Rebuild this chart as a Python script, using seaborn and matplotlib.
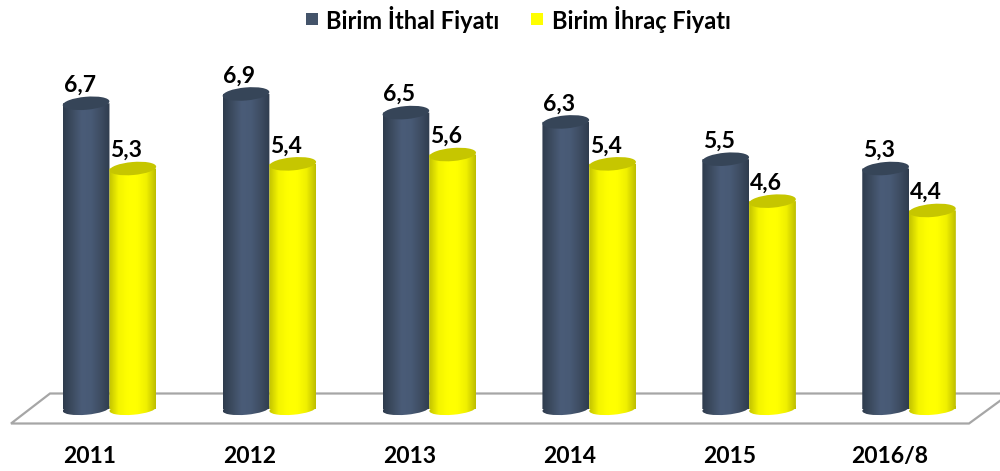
import numpy as np
import pandas as pd
import seaborn as sns
import matplotlib
matplotlib.use("Agg")
import matplotlib.pyplot as plt
from matplotlib.patches import Ellipse, Polygon, Rectangle
from matplotlib.path import Path
from matplotlib.transforms import Affine2D, ScaledTranslation
from matplotlib.colors import LinearSegmentedColormap

years = ["2011", "2012", "2013", "2014", "2015", "2016/8"]
import_prices = [6.7, 6.9, 6.5, 6.3, 5.5, 5.3]
export_prices = [5.3, 5.4, 5.6, 5.4, 4.6, 4.4]
labels_value = ["6,7", "6,9", "6,5", "6,3", "5,5", "5,3"]
labels_export = ["5,3", "5,4", "5,6", "5,4", "4,6", "4,4"]
series_names = ["Birim İthal Fiyatı", "Birim İhraç Fiyatı"]

DARK = "#44546A"
YELLOW = "#FFFF00"
FONT = "Lato"

W, H = 1000, 471
sns.set_theme(style="white")
plt.rcParams["font.family"] = [FONT, "DejaVu Sans"]
fig = plt.figure(figsize=(W / 100, H / 100), dpi=100)
fig.patch.set_facecolor("white")

# pixel (top-left origin) helpers
px = Affine2D().scale(1, -1).translate(0, H)
AX_L, AX_R, AX_BOTTOM = 29.5, 989, 408
PX_PER_UNIT = 46.6
ZERO_PX = 415.5
top_v = (ZERO_PX - 0) / PX_PER_UNIT
low_v = (ZERO_PX - AX_BOTTOM) / PX_PER_UNIT
ax = fig.add_axes([AX_L / W, (H - AX_BOTTOM) / H, (AX_R - AX_L) / W, AX_BOTTOM / H])
ax.patch.set_alpha(0)

df = pd.DataFrame({
    "year": years * 2,
    "value": import_prices + export_prices,
    "series": [series_names[0]] * 6 + [series_names[1]] * 6,
})
sns.barplot(data=df, x="year", y="value", hue="series", order=years,
            hue_order=series_names, palette=[DARK, YELLOW], width=0.585, gap=0,
            dodge=True, saturation=1, legend=False, ax=ax, zorder=3)
ax.set_xlim(-0.5, 5.5)
ax.set_ylim(low_v, top_v)
ax.set_xlabel("")
ax.set_ylabel("")
ax.yaxis.set_visible(False)
for s in ax.spines.values():
    s.set_visible(False)

bars = [b for b in ax.patches if isinstance(b, Rectangle) and b.get_height() > 0]

# floor
floor = Polygon([(11, 423.5), (50, 393.5), (1010, 393.5), (969, 423.5)], closed=True,
                facecolor="white", edgecolor="#A6A6A6", linewidth=1.6,
                transform=px, clip_on=False, zorder=1)
ax.add_patch(floor)

cm_dark = LinearSegmentedColormap.from_list("d", ["#2E3B4D", "#3D4C61", "#4A5C78", "#485A75", "#3E4D63", "#2F3C4E"])
cm_yellow = LinearSegmentedColormap.from_list("y", ["#C2C200", "#F4F400", "#FFFF00", "#FFFF00", "#F0F000", "#BDBD00"])
cap_dark, cap_yellow = "#364558", "#C6C600"
grad = np.linspace(0, 1, 128).reshape(1, -1)
TILT = 5
MINOR = 13

n = len(years)
for i, b in enumerate(bars):
    is_dark = i < n
    x0d, wd, h = b.get_x(), b.get_width(), b.get_height()
    (xl, ytop) = ax.transData.transform((x0d, h))
    (xr, _) = ax.transData.transform((x0d + wd, h))
    ytop_px = H - ytop
    cx = (xl + xr) / 2
    w_px = xr - xl
    # body: rectangle + bottom ellipse, shaded horizontally
    base_el = Ellipse((cx, AX_BOTTOM + 1), w_px, 11.5, angle=-TILT)
    rect = Rectangle((xl, ytop_px), w_px, AX_BOTTOM + 1 - ytop_px)
    pth = Path.make_compound_path(
        rect.get_path().transformed(rect.get_patch_transform()),
        base_el.get_path().transformed(base_el.get_patch_transform()),
    )
    z = 3 + (0.5 if not is_dark else 0) + i * 0.001
    im = ax.imshow(grad, extent=(x0d, x0d + wd, low_v - 0.3, h), aspect="auto",
                   cmap=cm_dark if is_dark else cm_yellow, zorder=z,
                   interpolation="bilinear")
    im.set_clip_box(fig.bbox)
    im.set_clip_path(pth, transform=px)
    cap = Ellipse((cx, ytop_px), w_px, MINOR, angle=-TILT,
                  facecolor=cap_dark if is_dark else cap_yellow,
                  edgecolor="none", transform=px, clip_on=False, zorder=z + 0.01)
    ax.add_patch(cap)
    b.set_visible(False)
    text = (labels_value + labels_export)[i]
    ax.text(cx - 6.5, ytop_px - 18, text, transform=px, ha="center", va="center",
            fontsize=16.5, fontweight="bold", color="black", zorder=10, clip_on=False)
ax.set_xlim(-0.5, 5.5)
ax.set_ylim(low_v, top_v)

# tick labels
ax.tick_params(axis="x", length=0, pad=0)
ax.set_xticks(range(n))
ax.set_xticklabels(years, fontsize=16.5, fontweight="bold", color="black")
off = ScaledTranslation(-19.5 / 100, -38 / 100, fig.dpi_scale_trans)
for t in ax.get_xticklabels():
    t.set_transform(t.get_transform() + off)

# legend
for (sx, name, c, tx) in [(306, series_names[0], DARK, 326), (531, series_names[1], YELLOW, 552)]:
    ax.add_patch(Rectangle((sx, 12.5), 12, 12.5, facecolor=c, edgecolor="none",
                           transform=px, clip_on=False, zorder=10))
    ax.text(tx, 19.5, name, transform=px, fontsize=17, fontweight="bold", color="black",
            ha="left", va="center", clip_on=False, zorder=10)

fig.savefig("out.png", dpi=100, facecolor="white")
